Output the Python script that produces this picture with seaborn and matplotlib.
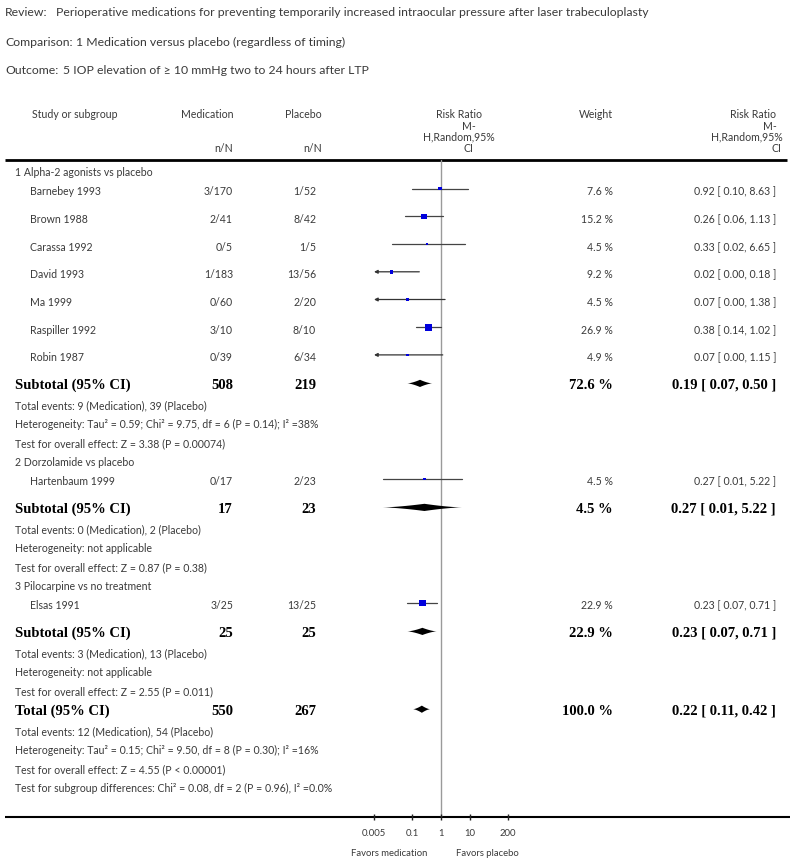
import matplotlib
matplotlib.use("Agg")
import matplotlib.pyplot as plt
import numpy as np
import pandas as pd
import seaborn as sns

# ---- chart data ----
review_text = "Perioperative medications for preventing temporarily increased intraocular pressure after laser trabeculoplasty"
comparison_text = "1 Medication versus placebo (regardless of timing)"
outcome_text = "5 IOP elevation of ≥ 10 mmHg two to 24 hours after LTP"

group_names = [
    "1 Alpha-2 agonists vs placebo",
    "2 Dorzolamide vs placebo",
    "3 Pilocarpine vs no treatment",
]

study_names = [
    "Barnebey 1993", "Brown 1988", "Carassa 1992", "David 1993", "Ma 1999",
    "Raspiller 1992", "Robin 1987", "Hartenbaum 1999", "Elsas 1991",
]
study_group = [0, 0, 0, 0, 0, 0, 0, 1, 2]
med_events = [3, 2, 0, 1, 0, 3, 0, 0, 3]
med_total = [170, 41, 5, 183, 60, 10, 39, 17, 25]
plc_events = [1, 8, 1, 13, 2, 8, 6, 2, 13]
plc_total = [52, 42, 5, 56, 20, 10, 34, 23, 25]
study_weight = [7.6, 15.2, 4.5, 9.2, 4.5, 26.9, 4.9, 4.5, 22.9]
study_rr = [0.92, 0.26, 0.33, 0.02, 0.07, 0.38, 0.07, 0.27, 0.23]
study_lo = [0.10, 0.06, 0.02, 0.00, 0.00, 0.14, 0.00, 0.01, 0.07]
study_hi = [8.63, 1.13, 6.65, 0.18, 1.38, 1.02, 1.15, 5.22, 0.71]

sub_med_total = [508, 17, 25]
sub_plc_total = [219, 23, 25]
sub_weight = [72.6, 4.5, 22.9]
sub_rr = [0.19, 0.27, 0.23]
sub_lo = [0.07, 0.01, 0.07]
sub_hi = [0.50, 5.22, 0.71]
sub_notes = [
    ["Total events: 9 (Medication), 39 (Placebo)",
     "Heterogeneity: Tau² = 0.59; Chi² = 9.75, df = 6 (P = 0.14); I² =38%",
     "Test for overall effect: Z = 3.38 (P = 0.00074)"],
    ["Total events: 0 (Medication), 2 (Placebo)",
     "Heterogeneity: not applicable",
     "Test for overall effect: Z = 0.87 (P = 0.38)"],
    ["Total events: 3 (Medication), 13 (Placebo)",
     "Heterogeneity: not applicable",
     "Test for overall effect: Z = 2.55 (P = 0.011)"],
]

total_med = 550
total_plc = 267
total_weight = 100.0
total_rr = 0.22
total_lo = 0.11
total_hi = 0.42
total_notes = [
    "Total events: 12 (Medication), 54 (Placebo)",
    "Heterogeneity: Tau² = 0.15; Chi² = 9.50, df = 8 (P = 0.30); I² =16%",
    "Test for overall effect: Z = 4.55 (P < 0.00001)",
    "Test for subgroup differences: Chi² = 0.08, df = 2 (P = 0.96), I² =0.0%",
]

axis_ticks = [0.005, 0.1, 1, 10, 200]
axis_labels = ["0.005", "0.1", "1", "10", "200"]
favours = ["Favors medication", "Favors placebo"]

# ---- style ----
sns.set_theme(style="white")
plt.rcParams["font.family"] = ["Lato", "DejaVu Sans"]
SANS = ["Lato", "DejaVu Sans"]
SERIF = ["Liberation Serif", "DejaVu Serif"]
TXT = "#3a3a3a"
FS = 7.6
BFS = 10.5

X_MIN, X_MAX = 0.005, 200
TOP, BOTTOM = 160, 817

# ---- row layout (pixel rows, top-down) ----
rows = []
for g in range(3):
    rows.append(("group", g))
    rows += [("study", i) for i, sg in enumerate(study_group) if sg == g]
    rows.append(("subtotal", g))
    rows += [("note", (g, k)) for k in range(3)]
rows.append(("total", None))
rows += [("tnote", k) for k in range(4)]

steps = {
    ("group", "study"): 19.0, ("study", "study"): 27.7, ("study", "subtotal"): 27.5,
    ("subtotal", "note"): 20.5, ("note", "note"): 19.0, ("note", "group"): 19.0,
    ("note", "total"): 19.3, ("total", "tnote"): 20.5, ("tnote", "tnote"): 19.0,
}
y = 172.7
row_y = []
prev = None
for kind, _ in rows:
    if prev is not None:
        y += steps[(prev, kind)]
    row_y.append(y)
    prev = kind

MARK_DY = -3.0

fig = plt.figure(figsize=(8.0, 8.66), dpi=100)
page = fig.add_axes([0, 0, 1, 1])
page.set_xlim(0, 800)
page.set_ylim(866, 0)
page.axis("off")

forest = fig.add_axes([374 / 800, (866 - BOTTOM) / 866, 134 / 800, (BOTTOM - TOP) / 866])
forest.patch.set_alpha(0)
for s in forest.spines.values():
    s.set_visible(False)


def txt(x, yy, s, ha="left", bold=False, size=FS):
    if bold:
        page.text(x, yy, s, ha=ha, va="center", family=SERIF, fontweight="bold",
                  fontsize=BFS, color="black")
    else:
        page.text(x, yy, s, ha=ha, va="center", family=SANS, fontsize=size, color=TXT)


def diamond(lo, mid, hi, yc, h=3.6):
    # pooled estimate diamond, slightly pinched sides like the RevMan drawing
    t = np.linspace(0, 1, 12)
    left = np.exp(np.log(lo) + (np.log(mid) - np.log(lo)) * t)
    right = np.exp(np.log(hi) + (np.log(mid) - np.log(hi)) * t)
    hl = h * t ** 1.5
    xs = np.concatenate([left, right[::-1], right, left[::-1]])
    ys = np.concatenate([yc - hl, yc - hl[::-1], yc + hl, yc + hl[::-1]])
    forest.fill(xs, ys, color="black", lw=0)


# title block
for yy, lab, xx, body in [(13, "Review:", 56, review_text),
                          (42, "Comparison:", 76, comparison_text),
                          (70, "Outcome:", 63, outcome_text)]:
    txt(5, yy, lab, size=8.8)
    txt(xx, yy, body, size=8.8)

# header
txt(32, 114, "Study or subgroup")
txt(233, 114, "Medication", ha="right")
txt(322, 114, "Placebo", ha="right")
txt(233, 149, "n/N", ha="right")
txt(322, 149, "n/N", ha="right")
txt(459, 114, "Risk Ratio", ha="center")
txt(469, 126, "M-", ha="center")
txt(459, 137, "H,Random,95%", ha="center")
txt(468, 149, "CI", ha="center")
txt(613, 114, "Weight", ha="right")
txt(776, 114, "Risk Ratio", ha="right")
txt(777, 126, "M-", ha="right")
txt(783, 137, "H,Random,95%", ha="right")
txt(781, 149, "CI", ha="right")
page.plot([5, 787], [159.5, 159.5], color="black", lw=2, solid_capstyle="butt")

# table body
study_rows = []
pooled = []
for (kind, idx), yy in zip(rows, row_y):
    if kind == "group":
        txt(15, yy, group_names[idx])
    elif kind == "study":
        i = idx
        txt(30, yy, study_names[i])
        txt(233, yy, f"{med_events[i]}/{med_total[i]}", ha="right")
        txt(316, yy, f"{plc_events[i]}/{plc_total[i]}", ha="right")
        txt(613, yy, f"{study_weight[i]:.1f} %", ha="right")
        txt(776, yy, f"{study_rr[i]:.2f} [ {study_lo[i]:.2f}, {study_hi[i]:.2f} ]", ha="right")
        study_rows.append({"rr": study_rr[i], "lo": study_lo[i], "hi": study_hi[i],
                           "weight": study_weight[i], "y": yy + MARK_DY})
    elif kind == "subtotal":
        g = idx
        txt(15, yy, "Subtotal (95% CI)", bold=True)
        txt(233, yy, f"{sub_med_total[g]}", ha="right", bold=True)
        txt(316, yy, f"{sub_plc_total[g]}", ha="right", bold=True)
        txt(613, yy, f"{sub_weight[g]:.1f} %", ha="right", bold=True)
        txt(776, yy, f"{sub_rr[g]:.2f} [ {sub_lo[g]:.2f}, {sub_hi[g]:.2f} ]", ha="right", bold=True)
        pooled.append((sub_lo[g], sub_rr[g], sub_hi[g], yy + MARK_DY + 1))
    elif kind == "note":
        g, k = idx
        txt(15, yy, sub_notes[g][k])
    elif kind == "total":
        txt(15, yy, "Total (95% CI)", bold=True)
        txt(233, yy, f"{total_med}", ha="right", bold=True)
        txt(316, yy, f"{total_plc}", ha="right", bold=True)
        txt(613, yy, f"{total_weight:.1f} %", ha="right", bold=True)
        txt(776, yy, f"{total_rr:.2f} [ {total_lo:.2f}, {total_hi:.2f} ]", ha="right", bold=True)
        pooled.append((total_lo, total_rr, total_hi, yy + MARK_DY + 1))
    else:
        txt(15, yy, total_notes[idx])

studies = pd.DataFrame(study_rows)

forest.axvline(1, color="#9a9a9a", lw=1, zorder=0)

# confidence intervals (arrow when the lower limit falls off the scale)
for _, r in studies.iterrows():
    if r["lo"] < X_MIN:
        forest.annotate("", xy=(X_MIN, r["y"]), xytext=(r["hi"], r["y"]),
                        arrowprops=dict(arrowstyle="-|>", color="#333333", lw=0.9,
                                        mutation_scale=5, shrinkA=0, shrinkB=0))
    else:
        forest.plot([r["lo"], r["hi"]], [r["y"], r["y"]], color="#444444", lw=0.9)

sns.scatterplot(data=studies, x="rr", y="y", size="weight", sizes=(3, 25),
                size_norm=(4.5, 26.9), marker="s", color="#0000dd", edgecolor="none",
                legend=False, ax=forest, zorder=3)

forest.set_xscale("log")
for lo, mid, hi, yc in pooled:
    diamond(lo, mid, hi, yc)

forest.set_xlabel("")
forest.set_ylabel("")
forest.set_xlim(X_MIN, X_MAX)
forest.set_ylim(BOTTOM, TOP)
forest.set_yticks([])

# bottom scale
page.plot([5, 790], [BOTTOM, BOTTOM], color="black", lw=1.5, solid_capstyle="butt")
forest.set_xticks(axis_ticks)
forest.set_xticklabels(axis_labels)
forest.minorticks_off()
forest.tick_params(axis="x", which="major", bottom=True, direction="inout", length=5,
                   width=1, color="#222222", labelsize=6.8, labelcolor=TXT, pad=6)
for lab in forest.get_xticklabels():
    lab.set_family(SANS)

forest.annotate(favours[0], xy=(1, BOTTOM), xytext=(-10, -26), textcoords="offset points",
                ha="right", va="center", fontsize=6.8, color=TXT, family=SANS,
                annotation_clip=False)
forest.annotate(favours[1], xy=(1, BOTTOM), xytext=(11, -26), textcoords="offset points",
                ha="left", va="center", fontsize=6.8, color=TXT, family=SANS,
                annotation_clip=False)

fig.savefig("out.png", dpi=100)
